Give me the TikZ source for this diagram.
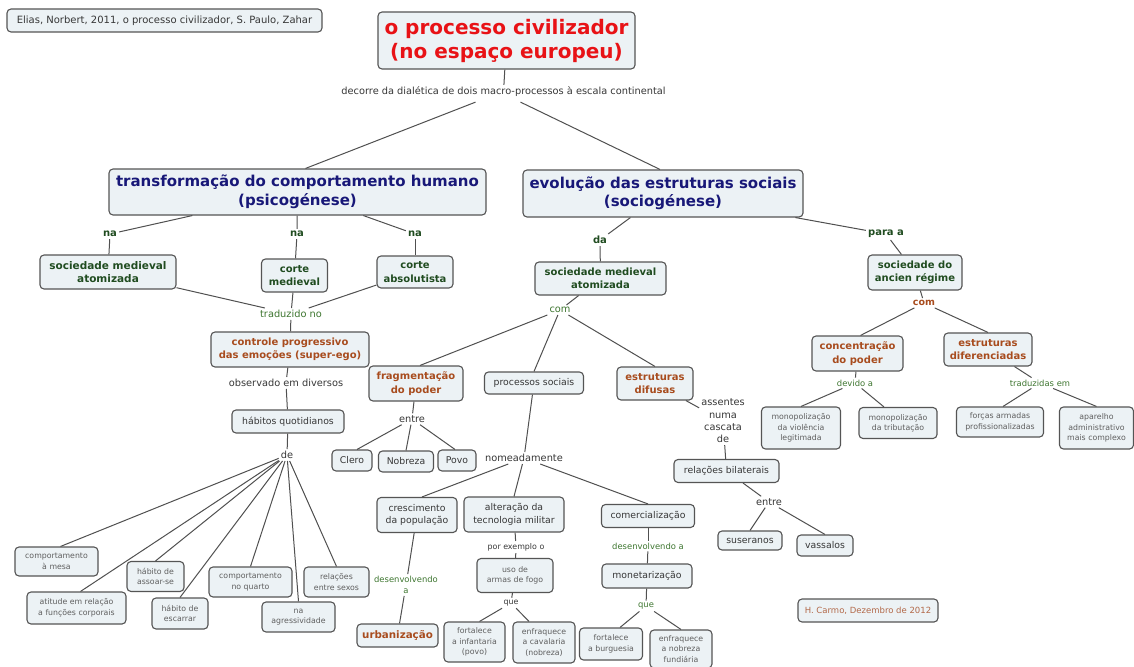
\documentclass[tikz,border=0pt]{standalone}
\usepackage{fontspec}
\setmainfont{DejaVu Sans}
\newcommand\fsz[2]{\fontsize{#1}{#2}\selectfont}
\definecolor{boxc}{RGB}{236,242,245}
\definecolor{bordc}{RGB}{85,85,85}
\definecolor{linec}{RGB}{80,80,80}
\definecolor{tred}{RGB}{232,18,22}
\definecolor{tnavy}{RGB}{24,24,120}
\definecolor{dgreen}{RGB}{32,76,32}
\definecolor{tbrown}{RGB}{168,76,30}
\definecolor{lgreen}{RGB}{62,118,48}
\definecolor{darkt}{RGB}{55,55,55}
\definecolor{grayt}{RGB}{95,95,95}
\definecolor{hcarmoc}{RGB}{178,104,72}
\begin{document}
\begin{tikzpicture}[x=1pt,y=-1pt,
  box/.style={draw=bordc, fill=boxc, rounded corners=4pt, line width=1.1pt, align=center, inner sep=2pt},
  bx/.style 2 args={box, minimum width=#1, minimum height=#2},
  lbl/.style={align=center, inner sep=2pt},
  ln/.style={draw=linec, line width=1pt},
  ttitle/.style={font=\fsz{20}{24}\bfseries, text=tred},
  tbig/.style={font=\fsz{15}{18.5}\bfseries, text=tnavy},
  tgb/.style={font=\fsz{10}{13.5}\bfseries, text=dgreen},
  tbb/.style={font=\fsz{10}{13.5}\bfseries, text=tbrown},
  treg/.style={font=\fsz{9.3}{12.5}, text=darkt},
  tsm/.style={font=\fsz{7.8}{10.5}, text=grayt},
  lab/.style={lbl, font=\fsz{9.8}{12.3}, text=darkt},
  labg/.style={lbl, font=\fsz{9.8}{12.3}, text=lgreen},
  labsg/.style={lbl, font=\fsz{8.4}{11}, text=lgreen},
  labs/.style={lbl, font=\fsz{7.9}{10}, text=darkt},
  nab/.style={lbl, font=\fsz{10}{12}\bfseries, text=dgreen},
  bbr/.style={lbl, font=\fsz{9.5}{12}\bfseries, text=tbrown}
]
\useasboundingbox (0,0) rectangle (1134,666);
\fill[white] (0,0) rectangle (1134,666);

% ---- nodes ----
\node[bx={315}{23}, font=\fsz{10}{12}, text=darkt] (elias) at (164.5,20.5) {Elias, Norbert, 2011, o processo civilizador, S. Paulo, Zahar};
\node[bx={257}{57}, ttitle] (title) at (506.5,40.5) {o processo civilizador\\(no espaço europeu)};
\node[lab] (decorre) at (503.5,92) {decorre da dialética de dois macro-processos à escala continental};
\node[bx={377}{46}, tbig] (psico) at (297.5,192) {transformação do comportamento humano\\(psicogénese)};
\node[bx={280}{47}, tbig] (socio) at (663,193.5) {evolução das estruturas sociais\\(sociogénese)};

\node[nab] (na1) at (110,234) {na};
\node[nab] (na2) at (297,234) {na};
\node[nab] (na3) at (415,234) {na};
\node[bx={136}{34}, tgb, font=\fsz{10.5}{13.5}\bfseries] (sma1) at (108,272) {sociedade medieval\\atomizada};
\node[bx={66}{33}, tgb] (cm) at (294.5,275.5) {corte\\medieval};
\node[bx={76}{32}, tgb] (ca) at (415,272) {corte\\absolutista};
\node[labg] (trad) at (291,314) {traduzido no};
\node[bx={158}{35}, tbb] (cpe) at (290,349.5) {controle progressivo\\das emoções (super-ego)};
\node[lab] (obs) at (286,383) {observado em diversos};
\node[bx={112}{23}, treg] (hab) at (288,421.5) {hábitos quotidianos};
\node[lab] (de) at (287,455) {de};
\node[bx={83}{29}, tsm] (mesa) at (56.5,561.5) {comportamento\\à mesa};
\node[bx={99}{32}, tsm] (atit) at (76.5,608) {atitude em relação\\a funções corporais};
\node[bx={57}{30}, tsm] (assoar) at (155.5,576.5) {hábito de\\assoar-se};
\node[bx={56}{31}, tsm] (escarrar) at (180,613.5) {hábito de\\escarrar};
\node[bx={83}{30}, tsm] (quarto) at (250.5,582) {comportamento\\no quarto};
\node[bx={73}{30}, tsm] (agress) at (298.5,617) {na\\agressividade};
\node[bx={65}{30}, tsm] (sexos) at (336.5,582) {relações\\entre sexos};

\node[nab] (da) at (600,240) {da};
\node[bx={131}{33}, tgb] (sma2) at (600.5,278.5) {sociedade medieval\\atomizada};
\node[labg] (com1) at (560,310) {com};
\node[bx={94}{35}, tbb] (frag) at (416,383.5) {fragmentação\\do poder};
\node[bx={99}{22}, treg] (proc) at (534,383) {processos sociais};
\node[bx={76}{33}, tbb] (difusas) at (655,383.5) {estruturas\\difusas};
\node[lab] (entre1) at (412,419) {entre};
\node[bx={40}{21}, treg] (clero) at (352,460.5) {Clero};
\node[bx={55}{21}, treg] (nobreza) at (406,461.5) {Nobreza};
\node[bx={38}{21}, treg] (povo) at (457,460.5) {Povo};
\node[lab] (nome) at (524,458) {nomeadamente};
\node[bx={80}{35}, treg] (cresc) at (417,515) {crescimento\\da população};
\node[bx={100}{35}, treg] (alter) at (514,514.5) {alteração da\\tecnologia militar};
\node[bx={93}{23}, treg] (comerc) at (648,516) {comercialização};
\node[labsg] (desenv1) at (406,585) {desenvolvendo\\a};
\node[bx={81}{23}, tbb, font=\fsz{10.3}{13}\bfseries] (urban) at (397.5,635.5) {urbanização};
\node[labs] (porex) at (516,547) {por exemplo o};
\node[bx={76}{34}, tsm] (uso) at (515,575.5) {uso de\\armas de fogo};
\node[labs] (que1) at (511,603) {que};
\node[bx={61}{40}, tsm] (fortinf) at (474.5,642) {fortalece\\a infantaria\\(povo)};
\node[bx={62}{41}, tsm] (enfcav) at (544,642.5) {enfraquece\\a cavalaria\\(nobreza)};
\node[labsg] (desenv2) at (648,546) {desenvolvendo a};
\node[bx={90}{24}, treg] (monet) at (647,576) {monetarização};
\node[labsg] (que2) at (646,606) {que};
\node[bx={63}{32}, tsm] (fortbur) at (611,644) {fortalece\\a burguesia};
\node[bx={62}{38}, tsm] (enfnob) at (681,649) {enfraquece\\a nobreza\\fundiária};
\node[lab] (assentes) at (723,421) {assentes\\numa\\cascata\\de};
\node[bx={105}{23}, treg] (relbil) at (726.5,471) {relações bilaterais};
\node[lab] (entre2) at (769,502) {entre};
\node[bx={64}{19}, treg] (suser) at (750,540.5) {suseranos};
\node[bx={56}{21}, treg] (vass) at (825,545.5) {vassalos};

\node[nab] (paraa) at (886,234) {para a};
\node[bx={94}{35}, tgb] (ancien) at (915,272.5) {sociedade do\\ancien régime};
\node[bbr] (com2) at (924,303) {com};
\node[bx={91}{35}, tbb] (conc) at (857.5,353.5) {concentração\\do poder};
\node[bx={88}{33}, tbb] (difer) at (988,349.5) {estruturas\\diferenciadas};
\node[labsg] (devido) at (855,383) {devido a};
\node[bx={79}{42}, tsm] (monviol) at (801,428) {monopolização\\da violência\\legitimada};
\node[bx={78}{31}, tsm] (montrib) at (898,423) {monopolização\\da tributação};
\node[labsg] (tradem) at (1040,383) {traduzidas em};
\node[bx={87}{30}, tsm] (forcas) at (1000,422) {forças armadas\\profissionalizadas};
\node[bx={74}{42}, tsm] (aparelho) at (1096.5,428) {aparelho\\administrativo\\mais complexo};
\node[bx={140}{23}, font=\fsz{8.5}{10}, text=hcarmoc] (hcarmo) at (868,610.5) {H. Carmo, Dezembro de 2012};

% ---- connectors ----
\draw[ln] (title) -- (decorre);
\draw[ln] ([xshift=-28pt,yshift=-3pt]decorre.south) -- ([xshift=8pt]psico.north);
\draw[ln] ([xshift=17pt,yshift=-3pt]decorre.south) -- ([xshift=-3pt]socio.north);
\draw[ln] (psico) -- (na1);
\draw[ln] (na1) -- (sma1);
\draw[ln] (psico) -- (na2);
\draw[ln] (na2) -- (cm);
\draw[ln] (psico) -- (na3);
\draw[ln] (na3) -- (ca);
\draw[ln] (sma1) -- (trad);
\draw[ln] (cm) -- (trad);
\draw[ln] (ca) -- (trad);
\draw[ln] (trad) -- (cpe);
\draw[ln] (cpe) -- (obs);
\draw[ln] (obs) -- (hab);
\draw[ln] (hab) -- (de);
\draw[ln] (de) -- ([xshift=4pt]mesa.north);
\draw[ln] (de) -- ([xshift=4pt]atit.north);
\draw[ln] (de) -- (assoar.north);
\draw[ln] (de) -- (escarrar.north);
\draw[ln] (de) -- (quarto.north);
\draw[ln] (de) -- (agress.north);
\draw[ln] (de) -- (sexos.north);

\draw[ln] (socio) -- (da);
\draw[ln] (da) -- (sma2);
\draw[ln] (sma2) -- (com1);
\draw[ln] (com1) -- ([xshift=4pt]frag.north);
\draw[ln] (com1) -- (proc.north);
\draw[ln] (com1) -- (difusas.north);
\draw[ln] (frag) -- (entre1);
\draw[ln] (entre1) -- ([xshift=5pt]clero.north);
\draw[ln] (entre1) -- (nobreza.north);
\draw[ln] (entre1) -- ([xshift=-2pt]povo.north);
\draw[ln] (proc) -- (nome);
\draw[ln] (nome) -- ([xshift=5pt]cresc.north);
\draw[ln] (nome) -- (alter.north);
\draw[ln] (nome) -- (comerc.north);
\draw[ln] (cresc) -- (desenv1);
\draw[ln] (desenv1) -- (urban);
\draw[ln] (alter) -- (porex);
\draw[ln] (porex) -- (uso);
\draw[ln] (uso) -- (que1);
\draw[ln] (que1) -- ([xshift=5pt]fortinf.north);
\draw[ln] (que1) -- ([xshift=-15pt]enfcav.north);
\draw[ln] (comerc) -- (desenv2);
\draw[ln] (desenv2) -- (monet);
\draw[ln] (monet) -- (que2);
\draw[ln] (que2) -- ([xshift=9pt]fortbur.north);
\draw[ln] (que2) -- (enfnob.north);
\draw[ln] (difusas) -- (assentes);
\draw[ln] (assentes) -- (relbil);
\draw[ln] (relbil) -- (entre2);
\draw[ln] (entre2) -- (suser.north);
\draw[ln] (entre2) -- (vass.north);

\draw[ln] (socio) -- (paraa);
\draw[ln] (paraa) -- (ancien);
\draw[ln] (ancien) -- (com2);
\draw[ln] (com2) -- ([xshift=3pt]conc.north);
\draw[ln] (com2) -- (difer.north);
\draw[ln] (conc) -- (devido);
\draw[ln] (devido) -- (monviol.north);
\draw[ln] (devido) -- ([xshift=-14pt]montrib.north);
\draw[ln] (difer) -- (tradem);
\draw[ln] (tradem) -- ([xshift=3pt]forcas.north);
\draw[ln] (tradem) -- (aparelho.north);
\end{tikzpicture}
\end{document}
